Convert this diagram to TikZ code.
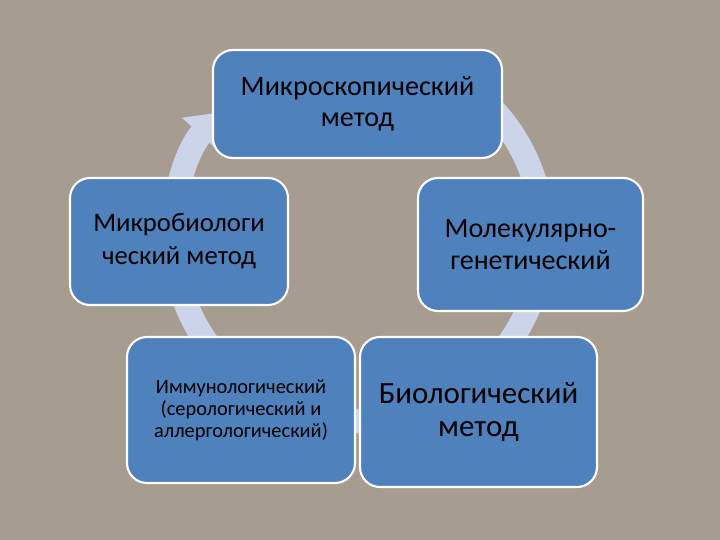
\documentclass[tikz,border=0pt]{standalone}
\usepackage{fontspec}
\setmainfont{Carlito}
\usetikzlibrary{arrows.meta}
\definecolor{slidebg}{RGB}{166,156,144}
\definecolor{boxblue}{RGB}{79,129,189}
\definecolor{ringblue}{RGB}{204,212,234}

\begin{document}
\begin{tikzpicture}
[every node/.style={rectangle,rounded corners=0.5cm,fill=boxblue,draw=white,line width=1.5pt,align=center,text=black,inner sep=0pt}]
  \fill[slidebg] (0,0) rectangle (18,13.5);
  \useasboundingbox (0,0) rectangle (18,13.5);

  % ring behind the boxes
  \coordinate (c) at (8.95,7.6);
  \draw[ringblue,line width=0.6cm,-{Triangle[width=1.2cm,length=0.75cm]}]
    (c) ++(65:4.625) arc[start angle=65,end angle=-222,radius=4.625];

  \node[minimum width=7.225cm,minimum height=2.7cm,font=\fontsize{20}{22}\selectfont] (m1) at (8.9375,10.9) {Микроскопический\\метод};
  \node[minimum width=5.625cm,minimum height=3.325cm,font=\fontsize{19.9}{22.7}\selectfont] (m2) at (13.2625,7.3875) {Молекулярно-\\генетический};
  \node[minimum width=5.925cm,minimum height=3.75cm,font=\fontsize{22}{24}\selectfont] (m3) at (11.9625,3.2) {Биологический\\метод};
  \node[minimum width=5.7cm,minimum height=3.65cm,font=\fontsize{14.5}{15.6}\selectfont] (m4) at (6.025,3.25) {Иммунологический\\(серологический и\\аллергологический)};
  \node[minimum width=5.45cm,minimum height=3.175cm,font=\fontsize{19}{23.4}\selectfont] (m5) at (4.475,7.4625) {Микробиологи\\ческий метод};
\end{tikzpicture}
\end{document}
